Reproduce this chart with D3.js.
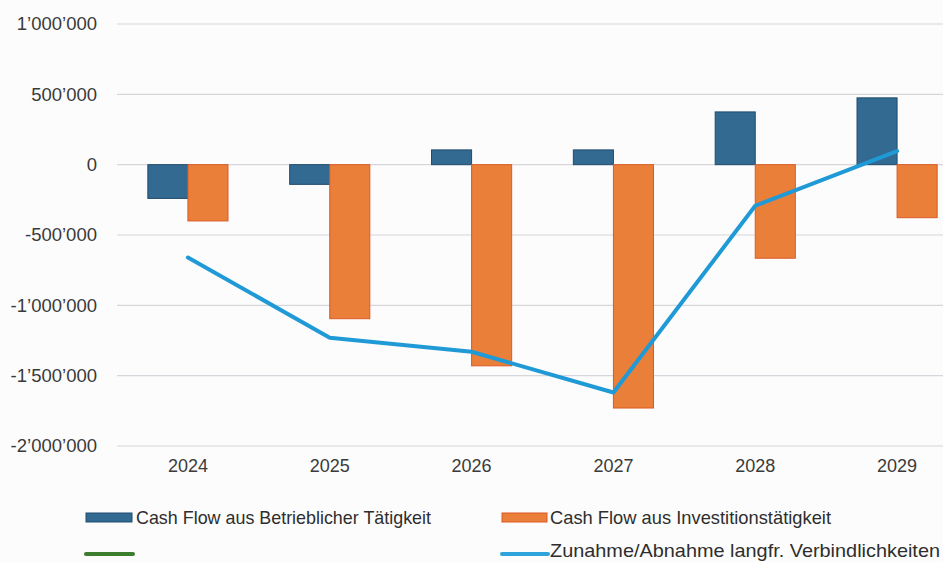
<!DOCTYPE html>
<html><head><meta charset="utf-8">
<script src="https://cdn.jsdelivr.net/npm/d3@7"></script>
<style>html,body{margin:0;padding:0;background:#fcfcfc;overflow:hidden}</style>
</head><body>
<svg id="c" width="943" height="562"></svg>
<script>
const years = ["2024","2025","2026","2027","2028","2029"];
const betrieb = [-240000, -140000, 105000, 105000, 375000, 475000];
const invest = [-400000, -1095000, -1430000, -1730000, -665000, -377000];
const verbindl = [-660000, -1230000, -1330000, -1620000, -292000, 97000];
const yTicks = [1000000, 500000, 0, -500000, -1000000, -1500000, -2000000];
const seriesNames = ["Cash Flow aus Betrieblicher Tätigkeit", "Cash Flow aus Investitionstätigkeit", "", "Zunahme/Abnahme langfr. Verbindlichkeiten"];

const svg = d3.select("#c");
svg.append("rect").attr("width",943).attr("height",562).attr("fill","#fcfcfc");

const x0 = d3.scaleBand().domain(years).range([117, 968]).paddingInner(0.435).paddingOuter(0.2175);
const x1 = d3.scaleBand().domain(["b","i"]).range([0, x0.bandwidth()]);
const y = d3.scaleLinear().domain([-2000000, 1000000]).range([446, 24]);

const fmt = v => (v < 0 ? "-" : "") + d3.format(",")(Math.abs(v)).replace(/,/g, "\u2019");

// gridlines
svg.append("g").selectAll("line").data(yTicks).join("line")
  .attr("x1", 117).attr("x2", 968)
  .attr("y1", d => y(d)).attr("y2", d => y(d))
  .attr("stroke", "#d6d6dc").attr("stroke-width", 1.2);

// y axis labels
const yAxis = d3.axisLeft(y).tickValues(yTicks).tickFormat(fmt).tickSize(0).tickPadding(0);
const ya = svg.append("g").attr("transform","translate(97,0)").call(yAxis);
ya.select(".domain").remove();
ya.selectAll("text").attr("font-family","Liberation Sans, Arial, sans-serif").attr("font-size",18.5).attr("fill","#3a3a3a");

// x axis labels
const xAxis = d3.axisBottom(x0).tickSize(0).tickPadding(0);
const xa = svg.append("g").attr("transform","translate(0,458)").call(xAxis);
xa.select(".domain").remove();
xa.selectAll("text").attr("font-family","Liberation Sans, Arial, sans-serif").attr("font-size",18).attr("fill","#3a3a3a").attr("dy","0.75em");

// bars
const g = svg.append("g");
g.selectAll("rect.b").data(years).join("rect").attr("class","b")
  .attr("x", d => x0(d) + x1("b")).attr("width", x1.bandwidth())
  .attr("y", (d,i) => Math.min(y(betrieb[i]), y(0)))
  .attr("height", (d,i) => Math.abs(y(betrieb[i]) - y(0)))
  .attr("fill", "#336a92").attr("stroke", "#214b6e").attr("stroke-width", 1);
g.selectAll("rect.i").data(years).join("rect").attr("class","i")
  .attr("x", d => x0(d) + x1("i")).attr("width", x1.bandwidth())
  .attr("y", (d,i) => Math.min(y(invest[i]), y(0)))
  .attr("height", (d,i) => Math.abs(y(invest[i]) - y(0)))
  .attr("fill", "#e97f39").attr("stroke", "#dc5a26").attr("stroke-width", 1);

// line
const line = d3.line().x((d,i) => x0(years[i]) + x0.bandwidth()/2).y(d => y(d));
svg.append("path").datum(verbindl).attr("d", line)
  .attr("fill","none").attr("stroke","#1f9ad6").attr("stroke-width",4).attr("stroke-linejoin","round").attr("stroke-linecap","round");

// legend
const lg = svg.append("g").attr("font-family","Liberation Sans, Arial, sans-serif").attr("font-size",19).attr("fill","#2e2e2e");
lg.append("rect").attr("x",86).attr("y",513).attr("width",46).attr("height",9).attr("fill","#336a92").attr("stroke","#214b6e");
lg.append("text").attr("x",136).attr("y",524).text(seriesNames[0]).attr("textLength",295).attr("lengthAdjust","spacingAndGlyphs");
lg.append("rect").attr("x",502).attr("y",513).attr("width",45).attr("height",9).attr("fill","#e97f39").attr("stroke","#dc5a26");
lg.append("text").attr("x",550).attr("y",524).text(seriesNames[1]).attr("textLength",281).attr("lengthAdjust","spacingAndGlyphs");
lg.append("line").attr("x1",86).attr("x2",133).attr("y1",554).attr("y2",554).attr("stroke","#3d7d2e").attr("stroke-width",4).attr("stroke-linecap","round");
lg.append("line").attr("x1",502).attr("x2",548).attr("y1",554).attr("y2",554).attr("stroke","#2ea3dc").attr("stroke-width",4).attr("stroke-linecap","round");
lg.append("text").attr("x",550).attr("y",557).text(seriesNames[3]).attr("textLength",390).attr("lengthAdjust","spacingAndGlyphs");
</script>
</body></html>
